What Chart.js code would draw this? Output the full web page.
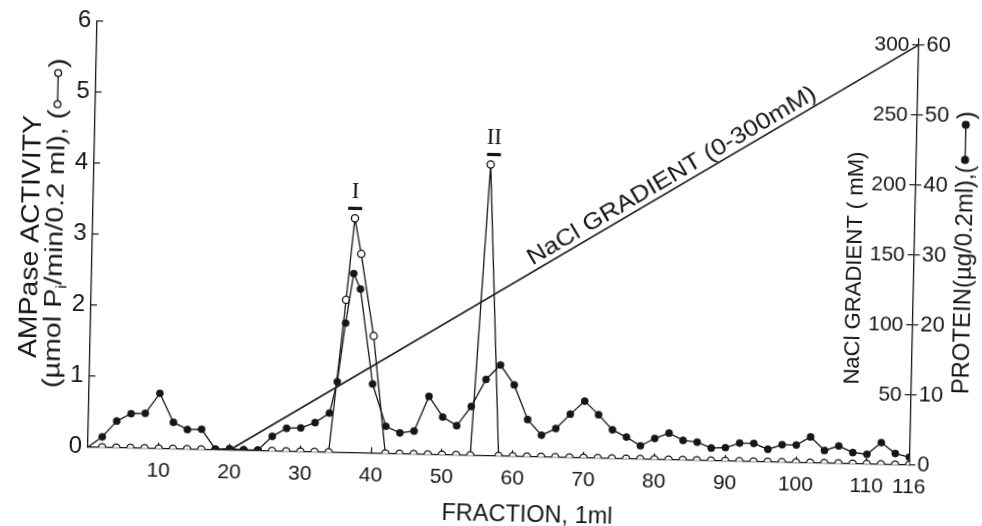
<!DOCTYPE html>
<html>
<head>
<meta charset="utf-8">
<script src="https://cdn.jsdelivr.net/npm/chart.js@4/dist/chart.umd.min.js"></script>
<style>
html, body { margin: 0; padding: 0; background: #fff; overflow: hidden; }
#wrap { width: 982px; height: 526px; transform: rotate(1.25deg); transform-origin: 491px 263px; }
canvas { display: block; }
</style>
</head>
<body>
<div id="wrap"><canvas id="c" width="982" height="526"></canvas></div>
<script>
// ---- tick labels ----
const xTickValues = [10, 20, 30, 40, 50, 60, 70, 80, 90, 100, 110, 116];
const ampaseTicks = [0, 1, 2, 3, 4, 5, 6];
const naclTicks = [50, 100, 150, 200, 250, 300];
const proteinTicks = [0, 10, 20, 30, 40, 50, 60];

// ---- AMPase activity (open circles), umol Pi/min/0.2 ml ----
const ampaseFractions = [2, 4, 6, 8, 10, 12, 14, 16, 18, 20, 22, 24, 26, 28, 30, 32, 34, 36, 37, 38, 40,
  42, 44, 46, 48, 50, 52, 54, 56, 58, 60, 62, 64, 66, 68, 70, 72, 74, 76, 78, 80, 82, 84, 86, 88, 90,
  92, 94, 96, 98, 100, 102, 104, 106, 108, 110, 112, 114, 116];
const ampaseValues = [0, 0, 0, 0, 0, 0, 0, 0, 0, 0, 0, 0, 0, 0, 0, 0, 0, 2.15, 3.3, 2.8, 1.65,
  0, 0, 0, 0, 0, 0, 0, 4.1, 0, 0, 0, 0, 0, 0, 0, 0, 0, 0, 0, 0, 0, 0, 0, 0, 0,
  0, 0, 0, 0, 0, 0, 0, 0, 0, 0, 0, 0, 0];

// ---- Protein (filled circles), ug/0.2 ml ----
const proteinFractions = [0, 2, 4, 6, 8, 10, 12, 14, 16, 18, 20, 22, 24, 26, 28, 30, 32, 34, 35, 36, 37, 38, 40,
  42, 44, 46, 48, 50, 52, 54, 56, 58, 60, 62, 64, 66, 68, 70, 72, 74, 76, 78, 80, 82, 84, 86, 88, 90,
  92, 94, 96, 98, 100, 102, 104, 106, 108, 110, 112, 114, 116];
const proteinValues = [0, 1.5, 3.8, 4.9, 5.0, 7.9, 3.8, 2.8, 2.9, 0.1, 0.2, 0.1, 0.1, 2.1, 3.3, 3.4, 4.2, 5.6, 10.1, 18.5, 25.6, 23.4, 9.9,
  3.9, 3.0, 3.3, 8.3, 5.4, 4.2, 7.0, 10.9, 13.0, 10.2, 5.3, 3.1, 4.1, 6.2, 8.1, 6.2, 4.1, 3.1, 1.9, 3.0, 3.8, 2.8, 2.6, 1.8, 1.9,
  2.6, 2.6, 1.8, 2.5, 2.5, 3.7, 1.8, 2.5, 1.6, 1.4, 3.1, 1.6, 1.1];

// ---- NaCl gradient, mM ----
const gradientFractions = [20, 116];
const gradientValues = [0, 300];

// ---- peak labels ----
const peakTexts = ['I', 'II'];
const peakFractions = [37, 56];

const INK = '#161616';
const SANS = "'Liberation Sans', Arial, sans-serif";
const SERIF = "'Liberation Serif', 'DejaVu Serif', serif";

function drawRun(ctx, parts, cx, cy, rot, targetLen, size, family, offY) {
  ctx.save();
  ctx.translate(cx, cy);
  ctx.rotate(rot);
  ctx.translate(0, offY || 0);
  ctx.textBaseline = 'alphabetic';
  ctx.textAlign = 'left';
  let textW = 0, symW = 0;
  const widths = parts.map(p => {
    if (p.sym) { symW += p.w; return p.w; }
    ctx.font = (p.sub ? Math.round(size * 0.62) : size) + 'px ' + family;
    const w = ctx.measureText(p.t).width;
    textW += w;
    return w;
  });
  const s = (targetLen - symW) / textW;
  let x = -targetLen / 2;
  const base = size * 0.36;
  parts.forEach((p, i) => {
    if (p.sym) {
      const w = widths[i], r = 3.4;
      ctx.lineWidth = 1.3;
      ctx.strokeStyle = INK;
      ctx.beginPath(); ctx.moveTo(x + r + 2, 0); ctx.lineTo(x + w - r - 2, 0); ctx.stroke();
      [x + r + 2, x + w - r - 2].forEach(c => {
        ctx.beginPath(); ctx.arc(c, 0, r, 0, Math.PI * 2);
        ctx.fillStyle = p.sym === 'filled' ? INK : '#fff';
        ctx.fill(); ctx.stroke();
      });
      ctx.fillStyle = INK;
      x += w;
    } else {
      const w = widths[i] * s;
      ctx.save();
      ctx.translate(x, base + (p.dy || 0));
      ctx.scale(s, 1);
      ctx.font = (p.sub ? Math.round(size * 0.62) : size) + 'px ' + family;
      ctx.fillStyle = INK;
      ctx.fillText(p.t, 0, 0);
      ctx.restore();
      x += w;
    }
  });
  ctx.restore();
}

const textPlugin = {
  id: 'texts',
  afterDraw(chart) {
    const ctx = chart.ctx, ca = chart.chartArea;
    const xs = chart.scales.x, ys = chart.scales.y, ns = chart.scales.nacl;
    const midY = (ca.top + ca.bottom) / 2;
    ctx.save();
    ctx.fillStyle = INK;

    // left axis titles
    drawRun(ctx, [{ t: 'AMPase ACTIVITY' }], ca.left - 63.5, midY + 4, -Math.PI / 2, 243, 25, SANS);
    drawRun(ctx, [{ t: '(µmol P' }, { t: 'i', sub: true, dy: 5 }, { t: '/min/0.2 ml), (' }, { sym: 'open', w: 42 }, { t: ')' }],
      ca.left - 37.8, midY - 10, -Math.PI / 2, 330, 23, SANS);
    // right axis titles
    drawRun(ctx, [{ t: 'NaCl GRADIENT ( mM)' }], ca.right - 60.5, midY + 17.5, -Math.PI / 2, 233, 22, SANS);
    drawRun(ctx, [{ t: 'PROTEIN(µg/0.2ml),(' }, { sym: 'filled', w: 46 }, { t: ')' }],
      ca.right + 49.2, midY, -Math.PI / 2, 283, 23, SANS);
    // x axis title
    drawRun(ctx, [{ t: 'FRACTION, 1ml' }], ca.left + 440.5, ca.bottom + 56.4, 0, 171, 24, SANS);

    // gradient label along the NaCl line
    const p1 = { x: xs.getPixelForValue(gradientFractions[0]), y: ns.getPixelForValue(gradientValues[0]) };
    const p2 = { x: xs.getPixelForValue(gradientFractions[1]), y: ns.getPixelForValue(gradientValues[1]) };
    const ang = Math.atan2(p2.y - p1.y, p2.x - p1.x);
    const t = (xs.getPixelForValue(82.5) - p1.x) / (p2.x - p1.x);
    drawRun(ctx, [{ t: 'NaCl GRADIENT (0-300mM)' }], p1.x + t * (p2.x - p1.x), p1.y + t * (p2.y - p1.y),
      ang, 331, 23, SANS, -14);

    // peak labels
    peakTexts.forEach((txt, i) => {
      const f = peakFractions[i];
      const v = ampaseValues[ampaseFractions.indexOf(f)];
      const px = xs.getPixelForValue(f) + (i === 1 ? 3 : 0);
      const py = ys.getPixelForValue(v);
      ctx.fillRect(px - 7, py - 11.5, 14, 3.2);
      ctx.font = '23px ' + SERIF;
      ctx.textAlign = 'center';
      ctx.textBaseline = 'middle';
      ctx.fillText(txt, px, py - 26);
    });
    ctx.restore();
  }
};

function setTicks(list) {
  return scale => { scale.ticks = list.map(v => ({ value: v })); };
}

new Chart(document.getElementById('c'), {
  type: 'line',
  data: {
    datasets: [
      {
        label: 'Protein',
        data: proteinFractions.map((f, i) => ({ x: f, y: proteinValues[i] })),
        yAxisID: 'protein',
        borderColor: INK, borderWidth: 1.3, tension: 0,
        pointBackgroundColor: INK, pointBorderColor: INK, pointBorderWidth: 0.5,
        pointRadius: c => (c.raw && c.raw.x === 0) ? 0 : 3.6
      },
      {
        label: 'AMPase',
        data: ampaseFractions.map((f, i) => ({ x: f, y: ampaseValues[i] })),
        yAxisID: 'y',
        borderColor: INK, borderWidth: 1.3, tension: 0,
        pointBackgroundColor: '#fff', pointBorderColor: INK, pointBorderWidth: 1.3, pointRadius: 3.6
      },
      {
        label: 'NaCl',
        data: gradientFractions.map((f, i) => ({ x: f, y: gradientValues[i] })),
        yAxisID: 'nacl',
        borderColor: INK, borderWidth: 1.6, pointRadius: 0, tension: 0
      }
    ]
  },
  options: {
    responsive: false,
    animation: false,
    devicePixelRatio: 1,
    layout: { padding: { top: 29.4, left: 0, right: 0, bottom: 0 } },
    plugins: { legend: { display: false }, tooltip: { enabled: false } },
    scales: {
      x: {
        type: 'linear', position: 'bottom', min: 0, max: 116,
        afterBuildTicks: setTicks(xTickValues),
        afterFit: s => { s.height = 70.2; },
        grid: { display: true, drawOnChartArea: false, drawTicks: true, tickLength: -6, color: INK, lineWidth: 1.2 },
        border: { display: true, color: INK, width: 1.3 },
        ticks: { padding: 16, color: INK, font: { family: SANS, size: 21 }, maxRotation: 0, autoSkip: false }
      },
      y: {
        position: 'left', min: 0, max: 6,
        afterBuildTicks: setTicks(ampaseTicks),
        afterFit: s => { s.width = 92; },
        grid: { display: true, drawOnChartArea: false, drawTicks: true, tickLength: -6, color: INK, lineWidth: 1.2 },
        border: { display: true, color: INK, width: 1.3 },
        ticks: { padding: 12, color: INK, font: { family: SANS, size: 24 } }
      },
      nacl: {
        position: 'right', weight: 0, min: 0, max: 304.6,
        afterBuildTicks: setTicks(naclTicks),
        afterFit: s => { s.width = 0; },
        grid: { display: true, drawOnChartArea: false, drawTicks: true, tickLength: -6, color: INK, lineWidth: 1.2 },
        border: { display: false },
        ticks: { mirror: true, padding: -9, color: INK, font: { family: SANS, size: 21 } }
      },
      protein: {
        position: 'right', weight: 1, min: 0, max: 60.9,
        afterBuildTicks: setTicks(proteinTicks),
        afterFit: s => { s.width = 68.5; },
        grid: { display: true, drawOnChartArea: false, drawTicks: true, tickLength: 6, color: INK, lineWidth: 1.2 },
        border: { display: true, color: INK, width: 1.3 },
        ticks: { padding: 2, color: INK, font: { family: SANS, size: 22 } }
      }
    }
  },
  plugins: [textPlugin]
});
</script>
</body>
</html>
